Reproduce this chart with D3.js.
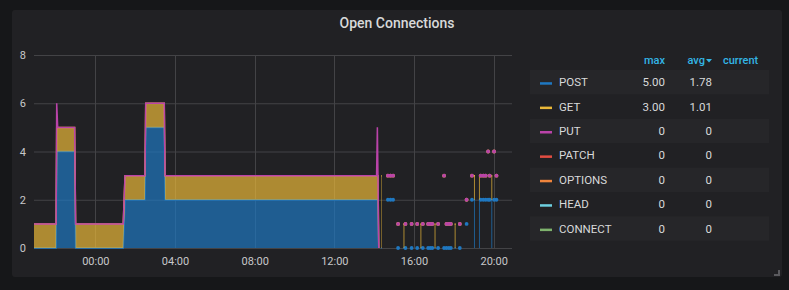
<!DOCTYPE html>
<html><head><meta charset="utf-8">
<script src="https://cdn.jsdelivr.net/npm/d3@7"></script>
<style>
html,body{margin:0;padding:0;background:#161719;}
svg{display:block;font-family:Roboto,"Noto Sans",sans-serif;}
</style></head>
<body>
<svg id="c" width="789" height="290"></svg>
<script>
// ---- data (hours relative to 00:00; null = gap) ----
const times = [
 -3.08,-1.97,-1.94,-1.89,-1.04,-0.99,1.40,1.49,2.49,2.53,3.46,3.50,14.12,14.16,14.19,14.23,
 null,14.35,14.38,null,14.69,null,14.82,null,14.95,null,15.20,null,15.47,15.52,null,15.57,null,
 15.88,null,16.16,null,16.32,16.37,null,16.44,null,16.71,null,16.82,null,16.92,null,17.03,17.08,null,
 17.21,null,17.51,null,17.63,null,17.75,null,17.85,null,18.04,18.09,null,18.30,null,18.64,null,18.91,null,
 19.01,19.06,null,19.26,19.31,null,19.35,null,19.48,null,19.60,null,19.72,null,19.80,null,19.88,19.93,null,
 20.02,null,20.14
];
const postVals = [
 0,0,4,4,4,0,0,2,2,5,5,2,2,2,2,0,
 null,0,0,null,2,null,2,null,2,null,0,null,0,0,null,0,null,
 0,null,0,null,0,0,null,0,null,0,null,0,null,0,null,0,0,null,
 0,null,0,null,0,null,0,null,0,null,0,0,null,0,null,1,null,2,null,
 2,2,null,2,2,null,2,null,2,null,2,null,2,null,2,null,2,2,null,
 2,null,2
];
const getVals = [
 1,1,1,1,1,1,1,1,1,1,1,1,1,1,1,0,
 null,3,3,null,1,null,1,null,1,null,1,null,1,1,null,1,null,
 1,null,1,null,1,1,null,1,null,1,null,1,null,1,null,1,1,null,
 1,null,3,null,1,null,1,null,1,null,1,1,null,1,null,1,null,1,null,
 1,1,null,1,1,null,1,null,1,null,1,null,2,null,1,null,1,1,null,
 2,null,1
];
const putVals = [
 0,0,1,0,0,0,0,0,0,0,0,0,0,2,0,0,
 null,null,null,null,0,null,0,null,0,null,0,null,null,null,null,0,null,
 0,null,0,null,null,null,null,0,null,0,null,0,null,0,null,null,null,null,
 0,null,0,null,0,null,0,null,0,null,null,null,null,0,null,0,null,0,null,
 null,null,null,null,null,null,0,null,0,null,0,null,0,null,0,null,null,null,null,
 0,null,0
];
const seriesNames = ["POST","GET","PUT","PATCH","OPTIONS","HEAD","CONNECT"];
const legendMax = ["5.00","3.00","0","0","0","0","0"];
const legendAvg = ["1.78","1.01","0","0","0","0","0"];
const yTicks = [0,2,4,6,8];
const xTickHours = [0,4,8,12,16,20];
const xTickLabels = ["00:00","04:00","08:00","12:00","16:00","20:00"];
const timeDomain = [-3.08, 20.92];

// ---- styles ----
const colors = ["#1F78C1","#EAB839","#BA43A9","#E24D42","#EF843C","#6ED0E0","#7EB26D"];
const svg = d3.select("#c");
const panel = {x:12,y:10,w:770,h:267};
svg.append("rect").attr("x",panel.x).attr("y",panel.y).attr("width",panel.w).attr("height",panel.h)
  .attr("rx",3).attr("fill","#212124");
svg.append("text").attr("x",panel.x+panel.w/2).attr("y",28).attr("text-anchor","middle")
  .attr("fill","#d8d9da").attr("font-size",14).attr("font-weight",500).text("Open Connections");
// resize handle
svg.append("path").attr("d","M780,270 L780,276 L774,276 L774,274 L778,274 L778,270 Z").attr("fill","#5a5a5e");

const x = d3.scaleLinear().domain(timeDomain).range([34,512]);
const y = d3.scaleLinear().domain([0,8]).range([248,55]);

// grid
const g = svg.append("g");
g.selectAll(".hg").data(yTicks).join("line").attr("x1",34).attr("x2",512)
  .attr("y1",d=>y(d)+0.5).attr("y2",d=>y(d)+0.5).attr("stroke","#434346").attr("stroke-width",1);
g.selectAll(".vg").data(xTickHours).join("line").attr("y1",y(8)).attr("y2",y(0))
  .attr("x1",d=>Math.round(x(d))+0.5).attr("x2",d=>Math.round(x(d))+0.5).attr("stroke","#434346").attr("stroke-width",1);

// axes
const yAxis = d3.axisLeft(y).tickValues(yTicks).tickSize(0).tickPadding(8).tickFormat(d3.format("d"));
const ya = svg.append("g").attr("transform","translate(34,0)").call(yAxis);
const xAxis = d3.axisBottom(x).tickValues(xTickHours).tickSize(0).tickPadding(9)
  .tickFormat((d,i)=>xTickLabels[i]);
const xa = svg.append("g").attr("transform","translate(0,248)").call(xAxis);
[ya,xa].forEach(a=>{a.select(".domain").remove();
  a.selectAll("text").attr("fill","#c7c8ca").attr("font-size",11).attr("font-family","Roboto,sans-serif");});

// stacked series
const vals = [postVals,getVals,putVals];
const n = times.length;
const plot = svg.append("g");
const base = new Array(n).fill(0);
vals.forEach((v,si)=>{
  const col = colors[si];
  const pts = [];
  for(let i=0;i<n;i++){
    if(times[i]===null || v[i]===null){pts.push(null);continue;}
    pts.push({t:times[i],b:base[i],top:base[i]+v[i]});
  }
  // runs
  const runs=[];let cur=[];
  pts.forEach(p=>{ if(p){cur.push(p);} else { if(cur.length) runs.push(cur); cur=[]; } });
  if(cur.length) runs.push(cur);
  const area = d3.area().x(d=>x(d.t)).y0(d=>y(d.b)).y1(d=>y(d.top));
  const line = d3.line().x(d=>x(d.t)).y(d=>y(d.top));
  runs.forEach(r=>{
    if(r.length>1){
      plot.append("path").attr("d",area(r)).attr("fill",col).attr("fill-opacity",0.7);
      plot.append("path").attr("d",line(r)).attr("fill","none").attr("stroke",col).attr("stroke-width",1.5);
    } else {
      plot.append("circle").attr("cx",x(r[0].t)).attr("cy",y(r[0].top)).attr("r",1.9).attr("fill",col);
    }
  });
  for(let i=0;i<n;i++){ if(v[i]!==null) base[i]+=v[i]; }
});

// legend
const lg = svg.append("g");
const rowY0 = 70, rowH = 24.4;
lg.append("text").attr("x",665).attr("y",64).attr("text-anchor","end").attr("fill","#33b5e5")
  .attr("font-size",11).attr("font-weight",500).text("max");
lg.append("text").attr("x",705).attr("y",64).attr("text-anchor","end").attr("fill","#33b5e5")
  .attr("font-size",11).attr("font-weight",500).text("avg");
lg.append("path").attr("d","M706,59 L712,59 L709,62.5 Z").attr("fill","#33b5e5");
lg.append("text").attr("x",723).attr("y",64).attr("fill","#33b5e5")
  .attr("font-size",11).attr("font-weight",500).text("current");
seriesNames.forEach((name,i)=>{
  const ry = rowY0 + i*rowH;
  if(i%2===0) lg.append("rect").attr("x",530).attr("y",ry).attr("width",239).attr("height",rowH).attr("fill","#262629");
  const cy = ry + rowH/2;
  lg.append("rect").attr("x",540).attr("y",cy).attr("width",12).attr("height",2.5).attr("fill",colors[i]);
  lg.append("text").attr("x",559).attr("y",cy+4).attr("fill","#d8d9da").attr("font-size",11.5).text(name);
  lg.append("text").attr("x",665).attr("y",cy+4).attr("text-anchor","end").attr("fill","#d8d9da").attr("font-size",11.5).text(legendMax[i]);
  lg.append("text").attr("x",712).attr("y",cy+4).attr("text-anchor","end").attr("fill","#d8d9da").attr("font-size",11.5).text(legendAvg[i]);
});
</script>
</body></html>
